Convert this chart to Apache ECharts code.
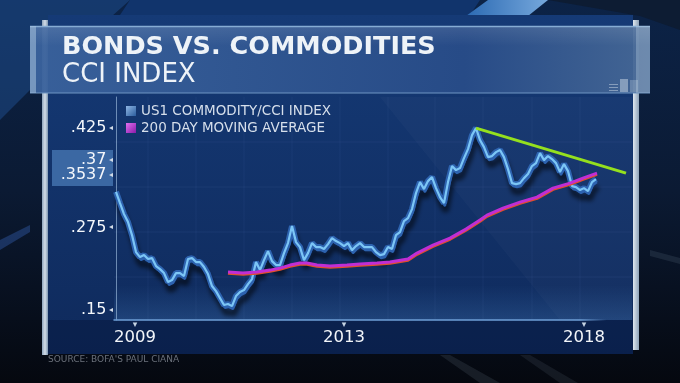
<!DOCTYPE html>
<html><head><meta charset="utf-8">
<script src="https://cdn.jsdelivr.net/npm/echarts@6/dist/echarts.min.js"></script>
<style>html,body{margin:0;padding:0;background:#070b14;overflow:hidden}#c{width:680px;height:383px}</style>
</head><body><div id="c"></div>
<script>
// ---- data ----
const cciValues = [
  0.3287,0.3117,0.2950,0.2830,0.2633,0.2376,0.2301,0.2331,0.2271,0.2286,
  0.2165,0.2119,0.2059,0.1923,0.1953,0.2059,0.2059,0.2014,0.2271,0.2286,
  0.2225,0.2225,0.2150,0.2044,0.1863,0.1787,0.1681,0.1576,0.1591,0.1560,
  0.1712,0.1772,0.1802,0.1893,0.1968,0.2225,0.2104,0.2255,0.2391,0.2240,
  0.2180,0.2180,0.2361,0.2512,0.2769,0.2527,0.2452,0.2255,0.2361,0.2512,
  0.2452,0.2452,0.2422,0.2497,0.2588,0.2543,0.2512,0.2467,0.2512,0.2406,
  0.2467,0.2512,0.2452,0.2452,0.2452,0.2376,0.2331,0.2346,0.2452,0.2422,
  0.2633,0.2679,0.2845,0.2890,0.3026,0.3268,0.3434,0.3328,0.3449,0.3510,
  0.3343,0.3207,0.3117,0.3434,0.3676,0.3615,0.3646,0.3797,0.3933,0.4144,
  0.4250,0.4069,0.3963,0.3812,0.3827,0.3887,0.3918,0.3812,0.3630,0.3419,
  0.3404,0.3419,0.3494,0.3555,0.3676,0.3721,0.3872,0.3766,0.3827,0.3782,
  0.3721,0.3585,0.3706,0.3600,0.3374,0.3358,0.3313,0.3343,0.3298,0.3434,
  0.3479
];
const maIndex = [28,31.75,35.25,38.5,41,43.5,46,47.75,50.25,53.5,57.75,61,65.25,68.5,73,75.25,79.25,83.5,87.5,91,92.75,96.75,101,105.25,109.25,113.5,116.75,120.25];
const maValues = [0.2074,0.2059,0.2074,0.2104,0.2134,0.2180,0.2210,0.2210,0.2180,0.2165,0.2180,0.2195,0.2210,0.2225,0.2271,0.2361,0.2482,0.2588,0.2724,0.2860,0.2935,0.3041,0.3132,0.3207,0.3343,0.3419,0.3494,0.3570];
const trendIndex = [90, 127.5];
const trendValues = [0.425, 0.357];
const xTickIndex = [4.75, 57, 117];
const xTickLabels = ['2009', '2013', '2018'];
const yTickValues = [0.425, 0.37, 0.3537, 0.275, 0.15];
const yTickLabels = ['.425', '.37', '.3537', '.275', '.15'];
const seriesNames = ['US1 COMMODITY/CCI INDEX', '200 DAY MOVING AVERAGE'];
const titleText = 'BONDS VS. COMMODITIES';
const subtitleText = 'CCI INDEX';
const sourceText = "SOURCE: BOFA'S PAUL CIANA";

const FONT = 'DejaVu Sans';
const G = echarts.graphic;
const chart = echarts.init(document.getElementById('c'), null, {renderer: 'canvas'});

const cciData = cciValues.map((v, i) => [i, v]);
const maData = maIndex.map((x, i) => [x, maValues[i]]);
const trendData = trendIndex.map((x, i) => [x, trendValues[i]]);

// decorative background / frame
const deco = [
  {type: 'rect', z: -20, shape: {x: 0, y: 0, width: 680, height: 383},
   style: {fill: new G.LinearGradient(0, 0, 0, 1, [{offset: 0, color: '#0c2347'}, {offset: 0.5, color: '#0b1a33'}, {offset: 1, color: '#05080f'}])}},
  {type: 'polygon', z: -19, shape: {points: [[0, 0], [130, 0], [40, 80], [0, 120]]}, style: {fill: 'rgba(40,100,180,0.35)'}},
  {type: 'polygon', z: -19, shape: {points: [[130, 0], [480, 0], [470, 15], [120, 15]]}, style: {fill: '#11346c'}},
  {type: 'polygon', z: -19, shape: {points: [[488, 0], [548, 0], [528, 16], [466, 16]]}, style: {fill: new G.LinearGradient(0, 0, 1, 0, [{offset: 0, color: '#2c6ab3'}, {offset: 1, color: '#76a8dc'}])}},
  {type: 'polygon', z: -19, shape: {points: [[548, 0], [680, 0], [680, 30], [640, 16]]}, style: {fill: '#0d1c33'}},
  {type: 'polygon', z: -19, shape: {points: [[0, 240], [30, 225], [30, 232], [0, 250]]}, style: {fill: 'rgba(60,110,200,0.35)'}},
  {type: 'polygon', z: -19, shape: {points: [[650, 250], [680, 258], [680, 264], [650, 256]]}, style: {fill: 'rgba(160,180,200,0.12)'}},
  {type: 'polygon', z: -19, shape: {points: [[480, 383], [500, 383], [450, 355], [440, 355]]}, style: {fill: 'rgba(160,180,200,0.12)'}},
  {type: 'polygon', z: -19, shape: {points: [[560, 383], [578, 383], [530, 355], [520, 355]]}, style: {fill: 'rgba(160,180,200,0.10)'}},
  // main panel
  {type: 'rect', z: -15, shape: {x: 48, y: 15, width: 585, height: 339},
   style: {fill: new G.LinearGradient(0, 0, 0, 1, [{offset: 0, color: '#153a76'}, {offset: 1, color: '#0f2a5c'}])}},
  {type: 'polygon', z: -14, shape: {points: [[380, 97], [632, 97], [632, 320], [560, 320]]}, style: {fill: 'rgba(255,255,255,0.025)'}},
  {type: 'rect', z: -14, shape: {x: 48, y: 320, width: 585, height: 34}, style: {fill: 'rgba(0,8,35,0.28)'}},
  {type: 'rect', z: -13, shape: {x: 114, y: 285, width: 518, height: 35},
   style: {fill: new G.LinearGradient(0, 0, 0, 1, [{offset: 0, color: 'rgba(90,160,230,0)'}, {offset: 1, color: 'rgba(90,160,230,0.2)'}])}},
  {type: 'rect', z: -12, shape: {x: 42, y: 20, width: 6, height: 335},
   style: {fill: new G.LinearGradient(0, 0, 1, 0, [{offset: 0, color: '#8ea4bc'}, {offset: 0.5, color: '#d3dde8'}, {offset: 1, color: '#7e96b0'}])}},
  {type: 'rect', z: -12, shape: {x: 633, y: 20, width: 6, height: 330},
   style: {fill: new G.LinearGradient(0, 0, 1, 0, [{offset: 0, color: '#e0e8f0'}, {offset: 1, color: '#8da2b8'}])}},
  // header band
  {type: 'rect', z: -11, shape: {x: 30, y: 26, width: 620, height: 67},
   style: {fill: new G.LinearGradient(0, 0, 1, 0, [{offset: 0, color: 'rgba(58,98,156,0.95)'}, {offset: 0.7, color: 'rgba(40,76,136,0.95)'}, {offset: 1, color: 'rgba(70,104,150,0.95)'}])}},
  {type: 'rect', z: -10, shape: {x: 30, y: 26, width: 620, height: 20},
   style: {fill: new G.LinearGradient(0, 0, 0, 1, [{offset: 0, color: 'rgba(255,255,255,0.10)'}, {offset: 1, color: 'rgba(255,255,255,0)'}])}},
  {type: 'line', z: -9, shape: {x1: 30, y1: 26.5, x2: 650, y2: 26.5}, style: {stroke: '#86acd4', lineWidth: 1.5}},
  {type: 'line', z: -9, shape: {x1: 30, y1: 93, x2: 650, y2: 93}, style: {stroke: '#6f95c2', lineWidth: 1}},
  {type: 'rect', z: -9, shape: {x: 30, y: 26, width: 6, height: 67}, style: {fill: 'rgba(170,196,222,0.55)'}},
  {type: 'rect', z: -9, shape: {x: 636, y: 26, width: 14, height: 67}, style: {fill: 'rgba(190,208,226,0.35)'}},
  {type: 'rect', z: -9, shape: {x: 609, y: 84, width: 9, height: 1}, style: {fill: 'rgba(220,230,240,0.45)'}},
  {type: 'rect', z: -9, shape: {x: 609, y: 87, width: 9, height: 1}, style: {fill: 'rgba(220,230,240,0.45)'}},
  {type: 'rect', z: -9, shape: {x: 609, y: 90, width: 9, height: 1}, style: {fill: 'rgba(220,230,240,0.45)'}},
  {type: 'rect', z: -9, shape: {x: 620, y: 79, width: 8, height: 13}, style: {fill: 'rgba(220,230,240,0.45)'}},
  {type: 'rect', z: -9, shape: {x: 630, y: 80, width: 8, height: 12}, style: {fill: 'rgba(220,230,240,0.25)'}},
  // highlight box for current values
  {type: 'rect', z: -8, shape: {x: 52, y: 150, width: 61, height: 36}, style: {fill: 'rgba(70,118,178,0.8)'}},
  // faint grid lines
  ...[142, 187, 232, 277].map(y => ({type: 'line', z: -8, shape: {x1: 114, y1: y, x2: 632, y2: y}, style: {stroke: 'rgba(130,170,230,0.08)', lineWidth: 1}})),
  ...[148, 196, 244, 292, 340, 388, 435, 483, 532, 580].map(x => ({type: 'line', z: -8, shape: {x1: x, y1: 97, x2: x, y2: 320}, style: {stroke: 'rgba(130,170,230,0.06)', lineWidth: 1}})),
  // texts
  {type: 'text', z: 50, x: 62, y: 47, style: {text: titleText, font: 'bold 25.5px "' + FONT + '"', fill: '#eef3f8', verticalAlign: 'middle', shadowColor: 'rgba(0,0,0,0.45)', shadowBlur: 3, shadowOffsetY: 1}},
  {type: 'text', z: 50, x: 62, y: 75, style: {text: subtitleText, font: '26px "' + FONT + '"', fill: '#eef3f8', verticalAlign: 'middle', shadowColor: 'rgba(0,0,0,0.35)', shadowBlur: 2}},
  {type: 'text', z: 50, x: 48, y: 360, style: {text: sourceText, font: '9px "' + FONT + '"', fill: '#6b717b', verticalAlign: 'middle'}}
];

const option = {
  backgroundColor: 'transparent',
  animation: false,
  graphic: {elements: deco},
  legend: {
    show: true, orient: 'vertical', left: 121, top: 99, icon: 'rect',
    itemWidth: 10, itemHeight: 10, itemGap: 3, selectedMode: false,
    textStyle: {color: '#d6dfeb', fontSize: 13.5, fontFamily: FONT, lineHeight: 14},
    data: [
      {name: seriesNames[0], itemStyle: {color: new G.LinearGradient(0, 0, 1, 1, [{offset: 0, color: '#8fb6e4'}, {offset: 1, color: '#2b5d9e'}])}},
      {name: seriesNames[1], itemStyle: {color: new G.LinearGradient(0, 0, 1, 1, [{offset: 0, color: '#e070f0'}, {offset: 1, color: '#8a1aa8'}])}}
    ]
  },
  grid: {left: 114, right: 50, top: 97, bottom: 63, containLabel: false},
  xAxis: {
    type: 'value', min: -0.5, max: 128.5,
    axisLine: {show: true, lineStyle: {width: 1.5, color: new G.LinearGradient(0, 0, 1, 0, [{offset: 0, color: '#6d9ed6'}, {offset: 0.9, color: '#6d9ed6'}, {offset: 0.95, color: 'rgba(109,158,214,0)'}, {offset: 1, color: 'rgba(109,158,214,0)'}])}},
    axisTick: {show: false}, splitLine: {show: false},
    axisLabel: {
      customValues: xTickIndex, margin: 0,
      formatter: v => { const k = xTickIndex.indexOf(v); return k < 0 ? '' : '{t|▾}\n{y|' + xTickLabels[k] + '}'; },
      rich: {
        t: {fontSize: 9, color: '#c4d2e2', lineHeight: 9, fontFamily: FONT, align: 'center'},
        y: {fontSize: 16.5, color: '#f2f5f9', lineHeight: 18, fontFamily: FONT, align: 'center'}
      }
    }
  },
  yAxis: {
    type: 'value', min: 0.135, max: 0.472,
    axisLine: {show: true, lineStyle: {color: 'rgba(170,200,232,0.6)', width: 1}},
    axisTick: {show: false}, splitLine: {show: false},
    axisLabel: {
      customValues: yTickValues, margin: 1,
      formatter: v => {
        const k = yTickValues.indexOf(v);
        if (k < 0) return '';
        return k === 1 ? '{h|' + yTickLabels[k] + '}{ht| ◂}' : '{v|' + yTickLabels[k] + '}{t| ◂}';
      },
      rich: {
        v: {fontSize: 16, color: '#f4f7fb', fontFamily: FONT},
        t: {fontSize: 8, color: '#d0dae6', fontFamily: FONT},
        h: {fontSize: 16, color: '#f4f7fb', fontFamily: FONT, padding: [0, 0, 10, 0]},
        ht: {fontSize: 8, color: '#d0dae6', fontFamily: FONT, padding: [0, 0, 10, 0]}
      }
    }
  },
  series: [
    {
      name: seriesNames[0], type: 'line', data: cciData, symbol: 'none', z: 3,
      lineStyle: {width: 6, color: '#2d63b0', shadowColor: 'rgba(0,0,0,0.55)', shadowBlur: 4, shadowOffsetX: 2, shadowOffsetY: 8},
      emphasis: {disabled: true}
    },
    {
      name: seriesNames[0], type: 'line', data: cciData, symbol: 'none', z: 4,
      lineStyle: {width: 2.2, color: '#7cc6f6', shadowColor: '#2d63b0', shadowBlur: 0, shadowOffsetX: 1, shadowOffsetY: 3},
      emphasis: {disabled: true}
    },
    {
      name: seriesNames[1], type: 'line', data: maData, symbol: 'none', z: 5,
      lineStyle: {width: 3, color: '#c02ed4', shadowColor: '#e0502a', shadowBlur: 0, shadowOffsetY: 1.2},
      emphasis: {disabled: true}
    },
    {
      name: 'trend', type: 'line', data: trendData, symbol: 'none', z: 6,
      lineStyle: {width: 3, color: '#95e01e'},
      emphasis: {disabled: true}
    }
  ]
};
chart.setOption(option);
</script>
</body></html>
